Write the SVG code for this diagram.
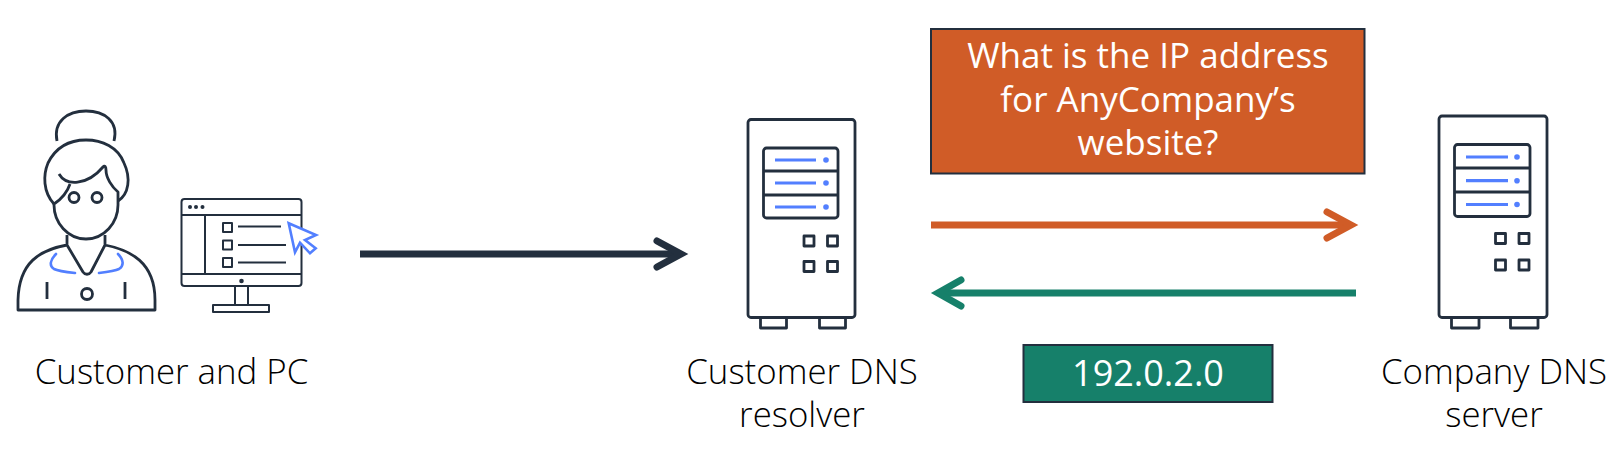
<svg xmlns="http://www.w3.org/2000/svg" width="1621" height="467" viewBox="0 0 1621 467">
<style>
.d{fill:none;stroke:#232f3e;stroke-width:2.800;stroke-linejoin:round}
.t{fill:none;stroke:#232f3e;stroke-width:2;stroke-linejoin:round}
.b{fill:none;stroke:#527fff;stroke-width:2.600;stroke-linecap:round;stroke-linejoin:round}
.s{fill:none;stroke:#527fff;stroke-width:3.200}
.p{fill:#527fff}
.l{font-family:"Open Sans","Noto Sans",sans-serif;font-size:34.800px;font-weight:300;fill:#000;text-anchor:middle}
.w{font-family:"Open Sans","Noto Sans",sans-serif;fill:#fff;text-anchor:middle}
.c{fill:none;stroke-width:7}
.h{fill:none;stroke-width:7;stroke-linecap:round;stroke-linejoin:miter}
</style>
<g id="customer-pc">
<path class="d" d="M57 141C53 121 68 111 86 111C104 111 119 121 114 141"/>
<path class="d" d="M54 204C43 192 43 175 48 163C56 147 70 140 86 140C102 140 118 147 124 163C131 178 129 194 118 201"/>
<path class="d" d="M59 174C66 186 87 186 103 167C105 165 106 167 106 170C106 178 112 187 118 192V205C118 223 104 239 86 239C68 239 54 223 54 205L54 204C60 200 67 193 70 184"/>
<circle class="d" cx="74" cy="197.500" r="5"/>
<circle class="d" cx="97" cy="197.500" r="5"/>
<path class="d" d="M67 235V245L83 272C85 275 89 275 91 272L105 245V235M67 245C40 250 19 262 18 300V310H155V300C155 262 130 250 105 245"/>
<path class="b" d="M56 254C50 260 49 266 54 269C58 271 66 272 75 273"/>
<path class="b" d="M118 254C124 260 124 266 119 269C115 271 107 272 99 273"/>
<path class="d" d="M47 282V299M125 282V299"/>
<circle class="d" cx="87" cy="294" r="5.500"/>
<rect class="t" x="181.500" y="199" width="120" height="87" rx="3"/>
<path class="t" d="M182 215H302M182 274H302M205 215V274"/>
<circle cx="190" cy="207" r="2" fill="#232f3e"/><circle cx="196" cy="207" r="2" fill="#232f3e"/><circle cx="202.500" cy="207" r="2" fill="#232f3e"/>
<rect class="t" x="223" y="223" width="9" height="9"/>
<rect class="t" x="223" y="240.500" width="9" height="9"/>
<rect class="t" x="223" y="258" width="9" height="9"/>
<path class="t" d="M238 226.500H281M238 245H286M238 262.500H286"/>
<circle cx="241.500" cy="281" r="2.300" fill="#232f3e"/>
<path class="t" d="M235 286V305M248 286V305"/>
<rect class="t" x="213" y="305" width="56" height="7"/>
<path d="M288.700 223.300L316 235L305 240L315.700 248.300L310 253.300L300 242.700L295 252.300Z" fill="#fff" stroke="#527fff" stroke-width="2.600" stroke-linejoin="miter"/>
<text class="l" x="171.500" y="383.500">Customer and PC</text>
</g>
<g id="customer-dns-resolver">
<rect class="d" x="748" y="119.500" width="107" height="198" rx="3"/>
<rect class="d" x="763.500" y="148" width="74.500" height="70" rx="3"/>
<path class="d" d="M763.500 171H838M763.500 195H838"/>
<path class="s" d="M775 160H816M775 183H816M775 207H816"/>
<circle class="p" cx="826" cy="160" r="2.800"/>
<circle class="p" cx="826" cy="183" r="2.800"/>
<circle class="p" cx="826" cy="207" r="2.800"/>
<rect class="d" x="804" y="236" width="10" height="10"/>
<rect class="d" x="827.500" y="236" width="10" height="10"/>
<rect class="d" x="804" y="261.500" width="10" height="10"/>
<rect class="d" x="827.500" y="261.500" width="10" height="10"/>
<path class="d" d="M760.500 317.500V328H786.500V317.500M819.500 317.500V328H845.500V317.500"/>
<text class="l" x="802" y="383.500">Customer DNS</text>
<text class="l" x="802" y="427">resolver</text>
</g>
<g id="company-dns-server">
<rect class="d" x="1439" y="116" width="108" height="201.500" rx="3"/>
<rect class="d" x="1454.500" y="144.500" width="75.500" height="72" rx="3"/>
<path class="d" d="M1454.500 168H1530M1454.500 192H1530"/>
<path class="s" d="M1466 157H1508M1466 180.700H1508M1466 204.500H1508"/>
<circle class="p" cx="1517" cy="157" r="2.800"/>
<circle class="p" cx="1517" cy="180.700" r="2.800"/>
<circle class="p" cx="1517" cy="204.500" r="2.800"/>
<rect class="d" x="1495.500" y="233.500" width="10" height="10"/>
<rect class="d" x="1519" y="233.500" width="10" height="10"/>
<rect class="d" x="1495.500" y="260" width="10" height="10"/>
<rect class="d" x="1519" y="260" width="10" height="10"/>
<path class="d" d="M1451.500 317.500V328H1479V317.500M1510.500 317.500V328H1538V317.500"/>
<text class="l" x="1494" y="383.500">Company DNS</text>
<text class="l" x="1494" y="427">server</text>
</g>
<g id="question-box">
<rect x="931" y="29" width="433.500" height="144.500" fill="#d05c27" stroke="#232f3e" stroke-width="2"/>
<text class="w" font-size="35" x="1148" y="68">What is the IP address</text>
<text class="w" font-size="35" x="1148" y="112">for AnyCompany’s</text>
<text class="w" font-size="35" x="1148" y="155">website?</text>
</g>
<g id="answer-box">
<rect x="1023.500" y="345" width="249" height="57" fill="#16806a" stroke="#232f3e" stroke-width="2"/>
<text class="w" font-size="36" x="1148" y="386">192.0.2.0</text>
</g>
<g id="connectors">
<path class="c" stroke="#232f3e" d="M360 254H680"/>
<path class="h" stroke="#232f3e" d="M657 241L681 254L657 267"/>
<path class="c" stroke="#d05c27" d="M931 225H1350"/>
<path class="h" stroke="#d05c27" d="M1327 212L1351 225L1327 238"/>
<path class="c" stroke="#16806a" d="M1356 293H938"/>
<path class="h" stroke="#16806a" d="M961 280L938 293L961 306"/>
</g>
</svg>
